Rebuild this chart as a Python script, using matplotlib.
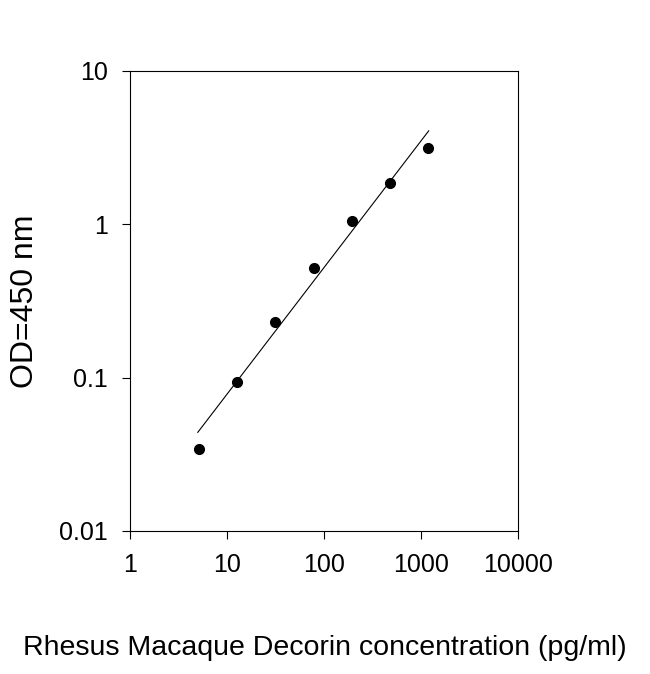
import matplotlib
matplotlib.use("Agg")
import matplotlib.pyplot as plt
from matplotlib.ticker import FixedLocator, NullLocator

conc = [5.1, 12.7, 31.2, 78.9, 194, 479, 1176]
od = [0.034, 0.094, 0.231, 0.52, 1.05, 1.86, 3.15]
fit_x = [5, 1200]
fit_y = [0.044, 4.07]
xticks = [1, 10, 100, 1000, 10000]
xlabels = ["1", "10", "100", "1000", "10000"]
yticks = [0.01, 0.1, 1, 10]
ylabels = ["0.01", "0.1", "1", "10"]

plt.rcParams['font.family'] = ['Liberation Sans', 'DejaVu Sans']
fig = plt.figure(figsize=(6.5, 6.74), dpi=100)
ax = fig.add_axes([0.2, 0.2122, 0.597, 0.6825])
ax.set_xscale('log'); ax.set_yscale('log')
ax.set_xlim(1, 10000); ax.set_ylim(0.01, 10)
ax.plot(fit_x, fit_y, color='black', lw=0.8)
ax.plot(conc, od, 'o', color='black', ms=7)
ax.xaxis.set_major_locator(FixedLocator(xticks)); ax.set_xticklabels(xlabels)
ax.yaxis.set_major_locator(FixedLocator(yticks)); ax.set_yticklabels(ylabels)
ax.xaxis.set_minor_locator(NullLocator()); ax.yaxis.set_minor_locator(NullLocator())
ax.tick_params(direction='out', length=6, labelsize=18, pad=10)
ax.set_ylabel("OD=450 nm", fontsize=23, labelpad=14)
fig.text(0.5, 0.028, "Rhesus Macaque Decorin concentration (pg/ml)", ha='center', fontsize=20.5)
fig.savefig("out.png", dpi=100)
